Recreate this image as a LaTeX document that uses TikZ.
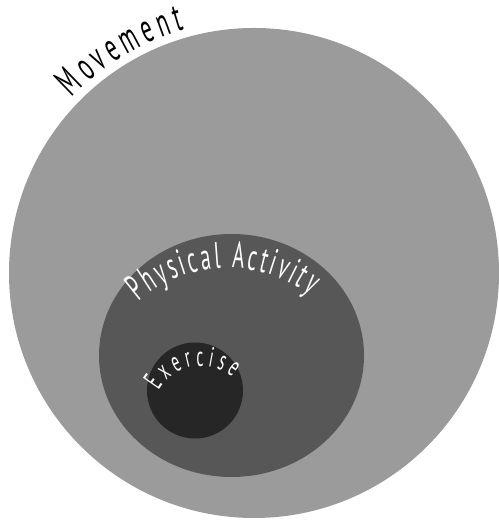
\documentclass[tikz,border=0pt]{standalone}
\usepackage{fontspec}
\usetikzlibrary{decorations.text}

\newfontfamily\handfont[FakeStretch=0.55]{PT Sans}

\definecolor{movGray}{HTML}{9B9B9B}
\definecolor{actGray}{HTML}{575757}
\definecolor{exeGray}{HTML}{262626}

\tikzset{
    arclabel/.style={decorate, decoration={text along path, text align=fit to path, text={#1}}}
}

\begin{document}
\begin{tikzpicture}[x=1pt, y=1pt]

    \useasboundingbox (0,0) rectangle (498,521);

    % ==========================================
    % 1. CERCHI
    % ==========================================
    \coordinate (movC) at (254,248);
    \coordinate (actC) at (231.5,165.5);
    \coordinate (exeC) at (195,130.5);

    \fill[movGray] (movC) circle (245pt);
    \fill[actGray] (actC) ellipse [x radius=132.5pt, y radius=121.5pt];
    \fill[exeGray] (exeC) circle (48pt);

    % ==========================================
    % 2. ETICHETTE CURVE
    % ==========================================
    % centri degli archi di testo
    \coordinate (movT) at (254,248);
    \coordinate (actT) at (228,117);
    \coordinate (exeT) at (201,106);

    \path[arclabel={|\handfont\fontsize{40}{40}\selectfont\color{black}|Movement}]
        ([shift={(136:253pt)}]movT) arc [start angle=136, end angle=106, radius=253pt];

    \path[arclabel={|\handfont\fontsize{37}{37}\selectfont\color{white}|Physical Activity}]
        ([shift={(131:136pt)}]actT) arc [start angle=131, end angle=53, radius=136pt];

    \path[arclabel={|\handfont\fontsize{28}{28}\selectfont\color{white}|Exercise}]
        ([shift={(150:49pt)}]exeT) arc [start angle=150, end angle=50, radius=49pt];

\end{tikzpicture}
\end{document}
